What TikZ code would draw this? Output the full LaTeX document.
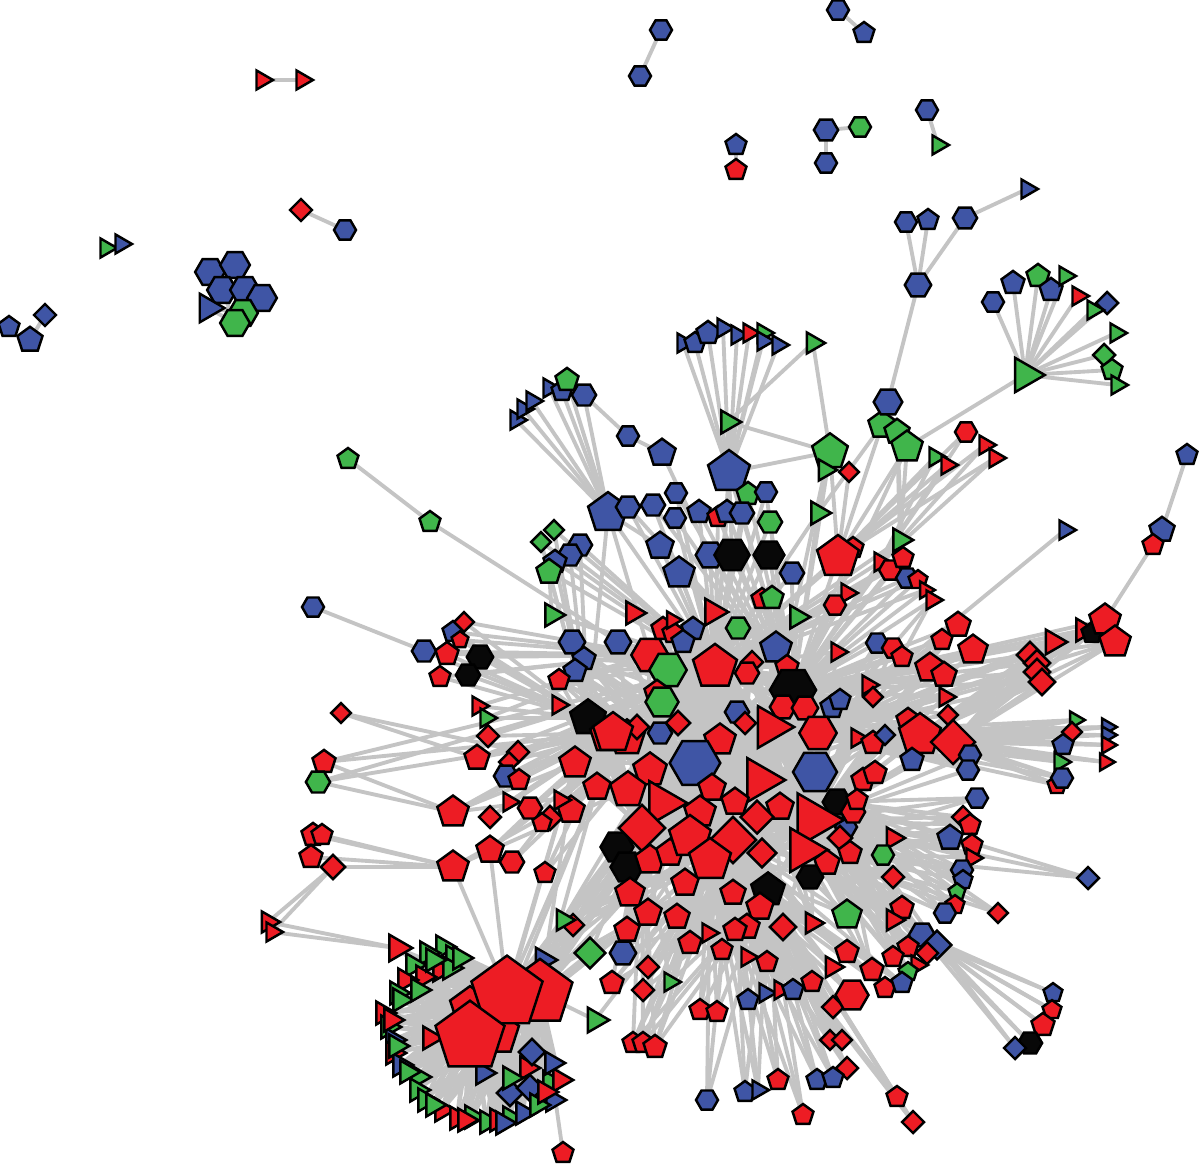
\documentclass[tikz,border=0pt]{standalone}
\usetikzlibrary{shapes.geometric}
\definecolor{cR}{HTML}{ED1C24}
\definecolor{cB}{HTML}{3F55A5}
\definecolor{cG}{HTML}{40B54B}
\definecolor{cK}{HTML}{080808}
\definecolor{cE}{HTML}{C4C4C4}
\pgfdeclarelayer{edges}
\pgfsetlayers{edges,main}
\tikzset{
  vtx/.style={draw=black,line width=1.4pt,inner sep=0pt,outer sep=0pt},
  hx/.style={vtx,regular polygon,regular polygon sides=6},
  pt/.style={vtx,regular polygon,regular polygon sides=5},
  dm/.style={vtx,regular polygon,regular polygon sides=4,shape border rotate=45},
  tr/.style={vtx,regular polygon,regular polygon sides=3,shape border rotate=-90},
  link/.style={draw=cE,line width=2.2pt,line cap=round},
}
\begin{document}
\begin{tikzpicture}[x=0.02cm,y=-0.02cm]
  \useasboundingbox (0,0) rectangle (1200,1166);

  % small separate components, top and left
  \foreach \nm/\px/\py/\shp/\col/\sz in {
    a1/262/80/tr/cR/20, a2/302/80/tr/cR/20, a3/661/30/hx/cB/20, a4/640/76/hx/cB/20,
    a5/838/10/hx/cB/20, a6/864/33/pt/cB/20, a7/736/145/pt/cB/20, a8/736/170/pt/cR/20,
    a9/826/130/hx/cB/22, a10/860/127/hx/cG/20, a11/826/163/hx/cB/20,
    a12/927/110/hx/cB/20, a13/938/145/tr/cG/20, a14/301/210/dm/cR/20, a15/345/230/hx/cB/20,
    a16/106/248/tr/cG/20, a17/121/244/tr/cB/20, a18/9/327/pt/cB/20, a19/30/340/pt/cB/24,
    a20/45/315/dm/cB/20,
    b1/210/272/hx/cB/27, b2/235/265/hx/cB/27, b3/222/290/hx/cB/27, b4/245/290/hx/cB/27,
    b5/262/298/hx/cB/27, b6/208/308/tr/cB/30, b7/243/313/hx/cG/27, b8/235/323/hx/cG/27}
    \node[\shp,fill=\col,minimum size=\sz*0.022cm] (\nm) at (\px,\py) {};

  % upper fans and their hubs
  \foreach \nm/\px/\py/\shp/\col/\sz in {
    t2/906/222/hx/cB/20, t3/928/220/pt/cB/20, t4/965/218/hx/cB/22, t5/1027/189/tr/cB/20,
    t1/918/285/hx/cB/24,
    f1/993/302/hx/cB/20, f2/1013/283/pt/cB/22, f3/1038/276/pt/cG/22, f4/1051/290/pt/cB/22,
    f5/1065/276/tr/cG/20, f6/1078/296/tr/cR/20, f7/1107/303/dm/cB/20, f8/1093/310/tr/cG/20,
    f9/1116/333/tr/cG/20, f10/1104/355/dm/cG/20, f11/1112/370/pt/cG/20, f12/1117/385/tr/cG/20,
    f0/1025/375/tr/cG/36,
    s1/683/343/tr/cB/20, s2/695/343/pt/cB/20, s3/708/333/pt/cB/22, s4/723/328/tr/cB/20,
    s5/737/335/tr/cB/20, s6/749/333/tr/cR/20, s7/763/333/tr/cG/20, s8/763/341/tr/cB/20,
    s9/778/345/tr/cB/20, s10/813/343/tr/cG/22, s11/728/422/tr/cG/24, s12/729/472/pt/cB/40,
    l1/516/420/tr/cB/20, l2/523/409/tr/cB/20, l3/532/401/tr/cB/20, l4/549/388/tr/cB/20,
    l5/562/391/pt/cB/20, l6/567/380/pt/cG/22, l7/584/395/hx/cB/22, l8/628/436/hx/cB/20,
    l9/662/453/pt/cB/26, lp/608/513/pt/cB/38,
    g4/882/425/pt/cG/26, g5/897/432/pt/cG/24, g3/907/447/pt/cG/30, u1/888/402/hx/cB/26,
    g1/830/452/pt/cG/34, g2/825/470/tr/cG/22, m1/849/472/dm/cR/18,
    m2/966/432/hx/cR/20, m3/985/445/tr/cR/20, m4/995/458/tr/cR/20, m5/935/457/tr/cG/20,
    m6/947/465/tr/cR/20, m7/1187/455/pt/cB/20, m8/1162/530/pt/cB/24, m9/1153/545/pt/cR/20,
    m10/1065/530/tr/cB/20}
    \node[\shp,fill=\col,minimum size=\sz*0.022cm] (\nm) at (\px,\py) {};

  % upper part of the core
  \foreach \nm/\px/\py/\shp/\col/\sz in {
    c1/628/507/hx/cB/22, c2/653/505/hx/cB/22, c3/676/493/hx/cB/20, c4/675/518/hx/cB/20,
    c5/748/494/pt/cG/22, c6/766/492/hx/cB/20, c7/699/512/pt/cB/22, c8/718/517/pt/cR/20,
    c9/727/512/pt/cB/22, c10/742/513/hx/cB/22, c11/770/522/hx/cG/22, c12/818/513/tr/cG/24,
    c13/660/546/pt/cB/26, c14/710/555/hx/cB/26, c15/732/555/hx/cK/32, c16/769/555/hx/cK/28,
    c17/679/573/pt/cB/30, c18/792/573/hx/cB/22, c20/853/548/pt/cR/20, c19/838/557/pt/cR/40,
    c21/762/599/pt/cR/20, c22/772/598/pt/cG/22, c23/847/593/tr/cR/20, c24/835/605/hx/cR/20,
    c25/552/615/tr/cG/24, c26/633/613/tr/cR/24, c27/713/612/tr/cR/28, c28/797/617/tr/cG/24,
    c29/900/540/tr/cG/24, c30/880/562/tr/cR/20, c31/890/570/hx/cR/20, c32/903/558/pt/cR/20,
    c33/907/578/hx/cB/20, c34/918/580/pt/cR/18, c35/925/590/tr/cR/18,
    d1/554/530/dm/cG/18, d2/541/542/dm/cG/18, d3/580/545/hx/cB/22, d4/570/555/hx/cB/22,
    d5/555/562/pt/cB/22, d6/549/572/pt/cG/24}
    \node[\shp,fill=\col,minimum size=\sz*0.022cm] (\nm) at (\px,\py) {};

  % left side
  \foreach \nm/\px/\py/\shp/\col/\sz in {
    e1/313/607/hx/cB/20, e2/424/651/hx/cB/22, e3/447/654/pt/cR/22, e5/453/632/pt/cB/20,
    e4/464/622/dm/cR/18, e6/460/640/pt/cR/16, e7/480/657/hx/cK/24, e8/468/675/hx/cK/22,
    e9/440/677/pt/cR/20, e10/478/706/tr/cR/20, e11/486/718/tr/cG/20, e12/341/713/dm/cR/18,
    e13/488/736/dm/cR/20, e14/477/758/pt/cR/24, e15/518/752/dm/cR/20, e16/509/762/dm/cR/18,
    e17/506/776/hx/cB/22, e18/519/780/pt/cR/20, e19/324/762/pt/cR/22, e20/318/782/hx/cG/22,
    e21/509/802/tr/cR/20, e22/453/812/pt/cR/30, e23/490/817/dm/cR/20, e24/530/808/hx/cR/22,
    e25/550/818/dm/cR/22, e26/571/810/pt/cR/26, e27/560/800/tr/cR/20, e28/542/823/pt/cR/18,
    e29/313/835/pt/cR/22, e30/322/835/pt/cR/20, e31/311/857/pt/cR/22, e32/333/867/dm/cR/22,
    e33/490/850/pt/cR/26, e34/512/862/hx/cR/22, e35/453/867/pt/cR/30, e36/545/873/pt/cR/20,
    e37/268/922/tr/cR/22, e38/272/932/tr/cR/20, e39/348/459/pt/cG/20, e40/430/522/pt/cG/20}
    \node[\shp,fill=\col,minimum size=\sz*0.022cm] (\nm) at (\px,\py) {};

  % dense core
  \foreach \nm/\px/\py/\shp/\col/\sz in {
    k1/572/642/hx/cB/24, k2/618/642/hx/cB/24, k3/584/659/pt/cB/22, k4/575/671/pt/cB/22,
    k5/559/680/pt/cR/20, k6/558/705/tr/cR/20, k7/588/718/pt/cK/34, k8/608/735/pt/cR/34,
    k9/627/738/pt/cR/34, k10/575/763/pt/cR/30, k11/637/727/dm/cR/22, k12/660/733/hx/cB/22,
    k13/650/655/hx/cR/34, k14/668/670/hx/cG/34, k15/657/693/pt/cR/24, k16/662/702/hx/cG/30,
    k17/663/629/pt/cR/22, k18/673/633/pt/cR/20, k19/672/620/tr/cR/18, k20/693/629/pt/cB/22,
    k21/683/642/pt/cB/22, k22/738/628/hx/cG/22, k23/776/648/pt/cB/30, k24/837/652/tr/cR/20,
    k25/715/667/pt/cR/42, k26/752/662/dm/cR/20, k27/747/673/hx/cR/22, k28/787/667/pt/cR/22,
    k29/793/690/hx/cK/42, k30/868/685/tr/cR/20, k31/873/697/dm/cR/18, k32/832/707/pt/cB/22,
    k33/840/700/pt/cB/20, k34/737/712/hx/cB/22, k35/783/707/hx/cR/24, k36/805/708/hx/cR/24,
    k37/745/723/dm/cR/20, k41/613/733/pt/cR/38, k40/678/723/dm/cR/22, k39/818/733/hx/cR/34,
    k38/770/727/tr/cR/44, k42/857/738/tr/cR/20, k43/873/743/pt/cR/22,
    k87/720/740/pt/cR/30, k88/650/770/pt/cR/32, k86/597/787/pt/cR/26,
    k44/695/763/hx/cB/46, k45/815/772/hx/cB/40, k46/760/780/tr/cR/46, k47/712/788/pt/cR/26,
    k84/628/790/pt/cR/34, k85/700/812/pt/cR/30,
    k48/662/803/tr/cR/46, k50/735/802/pt/cR/26, k51/780/807/pt/cR/26, k52/757/817/dm/cR/30,
    k56/837/802/hx/cK/26, k57/846/827/hx/cB/20, k58/853/812/hx/cR/22, k49/813/820/tr/cR/56,
    k59/840/838/dm/cR/22, k60/850/853/pt/cR/22, k61/617/847/hx/cK/30, k62/627/867/hx/cK/30,
    k53/642/828/dm/cR/42, k63/650/860/pt/cR/28, k64/670/853/pt/cR/26, k54/690/837/pt/cR/40,
    k55/733/840/dm/cR/42, k65/710/860/pt/cR/40, k66/762/853/dm/cR/26, k67/803/850/tr/cR/46,
    k68/827/863/pt/cR/24, k69/685/883/pt/cR/26, k70/733/893/pt/cR/24, k71/810/877/hx/cK/24,
    k72/768/890/pt/cK/32, k73/630/893/pt/cR/28, k74/847/915/pt/cG/28, k75/648/913/pt/cR/26,
    k76/677/917/pt/cR/24, k77/760/907/pt/cR/26, k78/783/927/dm/cR/24, k79/812/923/tr/cR/22,
    k80/573/925/dm/cR/20, k81/563/920/tr/cG/22, k82/747/927/pt/cR/24, k83/627/930/pt/cR/24}
    \node[\shp,fill=\col,minimum size=\sz*0.022cm] (\nm) at (\px,\py) {};

  % right side
  \foreach \nm/\px/\py/\shp/\col/\sz in {
    q1/932/600/tr/cR/20, q2/958/625/pt/cR/24, q3/942/640/pt/cR/20, q4/973/650/pt/cR/28,
    q5/877/643/hx/cB/20, q6/893/648/hx/cR/20, q7/902/657/pt/cR/20, q8/930/668/pt/cR/28,
    q9/944/675/pt/cR/24, q10/945/697/tr/cR/20, q11/948/715/dm/cR/18, q14/908/720/pt/cR/22,
    q12/920/735/pt/cR/40, q13/953/742/dm/cR/40, q15/885/735/dm/cB/18, q16/912/760/pt/cB/22,
    q17/970/755/hx/cB/20, q18/968/770/hx/cB/20,
    q19/1053/642/tr/cR/26, q20/1030/655/dm/cR/24, q21/1037/663/dm/cR/24, q22/1037/672/dm/cR/24,
    q23/1042/682/dm/cR/24, q24/1083/630/tr/cR/24, q25/1092/633/pt/cK/20, q26/1105/620/pt/cR/30,
    q27/1115/642/pt/cR/30,
    q28/1075/720/tr/cG/18, q29/1072/732/dm/cR/18, q30/1063/745/pt/cB/20, q31/1060/762/tr/cG/20,
    q33/1057/785/pt/cR/18, q32/1062/778/hx/cB/20, q34/1107/727/tr/cB/18, q35/1107/735/tr/cB/18,
    q36/1107/745/tr/cR/18, q37/1105/762/tr/cR/18,
    q38/977/798/hx/cB/20, q39/863/780/pt/cR/22, q40/875/773/pt/cR/22, q41/857/800/pt/cR/20,
    q42/963/817/dm/cR/20, q43/970/825/pt/cR/20, q44/950/838/pt/cB/24, q45/972/845/pt/cR/20,
    q46/972/858/tr/cR/20, q47/893/838/tr/cR/22, q48/883/855/hx/cG/20, q49/893/877/dm/cR/20,
    q50/1088/878/dm/cB/20, q51/962/870/hx/cB/20, q52/963/880/pt/cB/18, q53/957/892/pt/cG/16,
    q54/955/905/pt/cR/18, q55/945/913/hx/cB/20, q56/998/913/dm/cR/18, q57/902/908/pt/cR/22,
    q58/893/920/tr/cR/22, q59/922/935/hx/cB/24, q60/937/945/dm/cB/26, q61/908/947/pt/cR/20,
    q62/927/953/dm/cR/20, q63/893/957/pt/cR/20, q64/917/965/tr/cR/20, q65/908/972/pt/cG/18,
    q66/872/970/pt/cR/22, q67/1053/993/pt/cB/18, q68/1052/1010/pt/cR/18, q69/1043/1025/pt/cR/22,
    q70/1030/1043/hx/cK/22, q71/1015/1048/dm/cB/20}
    \node[\shp,fill=\col,minimum size=\sz*0.022cm] (\nm) at (\px,\py) {};

  % bottom
  \foreach \nm/\px/\py/\shp/\col/\sz in {
    w1/623/953/hx/cB/24, w2/648/967/dm/cR/20, w3/612/983/pt/cR/22, w4/643/990/dm/cR/20,
    w5/670/982/tr/cG/20, w6/633/1043/pt/cR/20, w7/643/1043/pt/cR/20, w8/655/1047/pt/cR/22,
    w9/700/1010/pt/cR/20, w10/717/1012/pt/cR/20, w11/748/1000/pt/cB/20, w12/765/993/tr/cB/20,
    w13/780/990/tr/cR/20, w14/793/990/pt/cB/20, w15/812/982/pt/cR/20, w16/833/1007/dm/cR/20,
    w17/852/995/hx/cR/30, w18/885/988/pt/cR/20, w19/902/983/pt/cB/20, w20/847/952/pt/cR/22,
    w21/832/967/tr/cR/22, w22/767/962/pt/cR/20, w23/747/957/tr/cR/20, w24/722/950/pt/cR/20,
    w25/708/933/tr/cR/20, w26/735/930/pt/cR/22, w27/690/943/pt/cR/22, w28/830/1040/dm/cR/18,
    w29/842/1040/dm/cR/18, w30/847/1068/dm/cR/20, w31/817/1080/pt/cB/20, w32/833/1078/pt/cB/20,
    w33/778/1080/pt/cR/20, w34/707/1100/hx/cB/20, w35/745/1092/pt/cB/20, w36/758/1090/tr/cB/20,
    w37/803/1115/pt/cR/20, w38/897/1097/pt/cR/20, w39/913/1122/dm/cR/20,
    x1/590/953/dm/cG/28, x2/595/1020/tr/cG/26, x3/563/1153/pt/cR/20}
    \node[\shp,fill=\col,minimum size=\sz*0.022cm] (\nm) at (\px,\py) {};

  % bottom-left ring round the large pentagons
  \foreach \nm/\px/\py/\shp/\col/\sz in {
    r0/397/948/tr/cR/28,
    r1/443/947/tr/cG/24, r2/453/957/tr/cG/24, r3/427/953/tr/cG/24, r4/413/965/tr/cG/24,
    r5/440/970/tr/cR/24, r6/450/968/tr/cG/24, r7/423/977/tr/cR/24, r8/405/980/tr/cR/24,
    r9/397/993/tr/cG/24, r10/383/1013/tr/cR/24, r11/388/1027/tr/cG/24, r12/393/1040/tr/cB/24,
    r13/393/1053/tr/cR/24, r14/400/1065/tr/cB/24, r15/418/1077/tr/cG/24, r16/417/1090/tr/cG/24,
    r17/425/1100/tr/cG/24, r18/442/1110/tr/cR/24, r19/457/1118/tr/cR/24, r20/472/1117/tr/cG/24,
    r21/487/1122/tr/cG/24, r22/497/1120/tr/cR/24, r23/510/1118/tr/cG/24, r24/523/1113/tr/cB/24,
    r25/510/1093/dm/cB/24, r26/530/1088/dm/cB/24, r27/550/1082/tr/cG/24, r28/560/1080/tr/cR/24,
    r29/553/1100/tr/cB/24, r30/552/1063/tr/cB/24, r31/527/1068/tr/cR/24, r32/510/1078/tr/cG/24,
    r33/532/1052/dm/cB/24, r34/483/1073/tr/cB/24, r35/543/960/tr/cB/26, r36/430/1038/tr/cR/24,
    r37/400/1000/tr/cG/24, r38/391/1020/tr/cR/24, r39/396/1046/tr/cG/24, r40/407/1072/tr/cG/24,
    r41/433/1105/tr/cG/24, r42/465/1120/tr/cR/24, r43/503/1123/tr/cB/24, r44/537/1105/tr/cG/24,
    r45/545/1092/tr/cR/24, r46/460/958/tr/cG/24, r47/433/960/tr/cG/24, r48/418/990/tr/cG/24,
    h2/540/993/pt/cR/62, h5/470/1007/pt/cR/38, h4/497/1033/pt/cR/42, h1/507/993/pt/cR/68,
    h3/470/1037/pt/cR/66}
    \node[\shp,fill=\col,minimum size=\sz*0.022cm] (\nm) at (\px,\py) {};

  \begin{pgfonlayer}{edges}
    % single links
    \foreach \a/\b in {a1/a2,a3/a4,a5/a6,a7/a8,a9/a10,a9/a11,a12/a13,a14/a15,a16/a17,a19/a20,
      b6/b7,b6/b8,b3/b8,b2/b4,b1/b3,b4/b7,
      t1/t2,t1/t3,t1/t4,t4/t5,t1/u1,u1/g4,f0/g3,s10/s11,s10/g1,s11/s12,s11/g1,
      l7/l8,l8/l9,l9/c14,lp/k13,lp/k25,lp/c13,lp/k7,lp/c1,
      s12/c15,s12/k25,s12/k29,s12/c9,s12/c5,
      g1/c19,g1/k29,g1/c12,g1/s12,g2/k38,g3/c19,g3/c29,g3/k29,g4/c19,g4/c12,g5/c29,g5/c32,
      m1/c19,m7/m8,m9/q26,m10/k39,
      e1/e2,e2/k7,e2/k13,e39/e40,e40/k2,e12/k10,e12/e14,e19/e22,e20/e22,
      e29/e35,e30/e35,e31/e35,e32/e35,e32/e37,e32/e38,e37/r0,e38/r0,
      e22/k10,e22/k84,e35/h1,e35/k84,e35/k86,e33/h1,
      r0/h1,r0/h5,x1/h2,x1/k53,x2/h2,x2/k55,x3/h2,d6/c25}
      \draw[link] (\a.center) -- (\b.center);

    % fans
    \foreach \i in {1,...,12} \draw[link] (f0.center) -- (f\i.center);
    \foreach \i in {1,...,9} \draw[link] (s12.center) -- (s\i.center);
    \foreach \i in {1,...,7} \draw[link] (lp.center) -- (l\i.center);
    \foreach \i in {2,...,6} \foreach \h in {c19,c30} \draw[link] (m\i.center) -- (\h.center);

    % spokes into the core
    \foreach \i in {1,...,35} \foreach \h in {k25,k29} \draw[link] (c\i.center) -- (\h.center);
    \foreach \i in {1,...,6} \foreach \h in {k7,k25} \draw[link] (d\i.center) -- (\h.center);
    \foreach \i in {3,...,11} \foreach \h in {k7,k13} \draw[link] (e\i.center) -- (\h.center);
    \foreach \i in {13,...,28,33,34,36} \foreach \h in {k41,k25}
      \draw[link] (e\i.center) -- (\h.center);
    \foreach \i in {1,...,88} \foreach \h in {k44,k38,k53,k55,k25,k49}
      \draw[link] (k\i.center) -- (\h.center);
    \foreach \i in {1,...,18} \foreach \h in {k39,k49,k29} \draw[link] (q\i.center) -- (\h.center);
    \foreach \i in {19,...,27} \foreach \h in {q12,q13,k39,k29}
      \draw[link] (q\i.center) -- (\h.center);
    \foreach \i in {28,...,37} \foreach \h in {q13,q12,k39} \draw[link] (q\i.center) -- (\h.center);
    \foreach \i in {38,...,66} \foreach \h in {k49,k67,k56} \draw[link] (q\i.center) -- (\h.center);
    \foreach \i in {67,...,71} \foreach \h in {q60,q59} \draw[link] (q\i.center) -- (\h.center);
    \foreach \i in {1,...,39} \foreach \h in {k55,k65,k72} \draw[link] (w\i.center) -- (\h.center);
    \foreach \i in {1,...,8} \draw[link] (w\i.center) -- (k53.center);

    % ring cluster
    \foreach \i in {1,...,48} \foreach \h in {h1,h2,h3,h4,h5}
      \draw[link] (r\i.center) -- (\h.center);
    \foreach \a in {h1,h2,h4} \foreach \b in {k53,k61,k62,k73,k75,k80,k81,k83,k10,k86}
      \draw[link] (\a.center) -- (\b.center);
  \end{pgfonlayer}
\end{tikzpicture}
\end{document}
